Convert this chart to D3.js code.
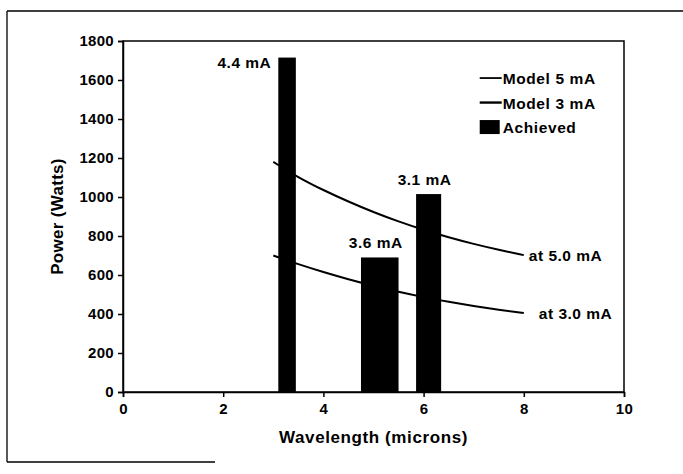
<!DOCTYPE html>
<html>
<head>
<meta charset="utf-8">
<script src="https://cdn.jsdelivr.net/npm/d3@7"></script>
<style>
  body { margin: 0; background: #fff; }
  text { font-family: "Liberation Sans", Arial, sans-serif; font-weight: bold; fill: #000; }
</style>
</head>
<body>
<div id="chart"></div>
<script>
// model curves (power vs wavelength)
var wavelength = [3, 3.5, 4, 4.5, 5, 5.5, 6, 6.5, 7, 7.5, 8];
var model5 = [1180, 1100, 1035, 976, 922, 874, 831, 793, 759, 729, 702];
var model3 = [700, 655, 615, 578, 544, 513, 486, 462, 441, 422, 405];

// achieved bars
var barLo = [3.1, 4.75, 5.85];
var barHi = [3.45, 5.5, 6.35];
var barPower = [1715, 690, 1015];
var barLabel = ["4.4 mA", "3.6 mA", "3.1 mA"];

var xTicks = [0, 2, 4, 6, 8, 10];
var yTicks = [0, 200, 400, 600, 800, 1000, 1200, 1400, 1600, 1800];
var legendNames = ["Model 5 mA", "Model 3 mA", "Achieved"];

var W = 683, H = 474;
var margin = {top: 41, right: 59, bottom: 82, left: 123},
    width = W - margin.left - margin.right,
    height = H - margin.top - margin.bottom;

var svgRoot = d3.select("#chart").append("svg")
  .attr("width", W).attr("height", H);

// scanned page border
svgRoot.append("path")
  .attr("d", "M7,11 L683,11 M7,11 L7,462 M7,462 L215,462")
  .attr("stroke", "#000").attr("stroke-width", 1.3).attr("fill", "none");

var svg = svgRoot.append("g")
  .attr("transform", "translate(" + margin.left + "," + margin.top + ")");

var x = d3.scaleLinear().domain([0, 10]).range([0, width]);
var y = d3.scaleLinear().domain([0, 1800]).range([height, 0]);

// plot frame
svg.append("rect")
  .attr("x", 0).attr("y", 0).attr("width", width).attr("height", height)
  .attr("fill", "none").attr("stroke", "#000").attr("stroke-width", 1.5);

// axes
var xAxis = svg.append("g")
  .attr("transform", "translate(0," + height + ")")
  .call(d3.axisBottom(x).tickValues(xTicks).tickFormat(d3.format("d")).tickSize(5).tickPadding(6));
var yAxis = svg.append("g")
  .call(d3.axisLeft(y).tickValues(yTicks).tickFormat(d3.format("d")).tickSize(5).tickPadding(4));
[xAxis, yAxis].forEach(function(a) {
  a.selectAll("path, line").attr("stroke", "#000").attr("stroke-width", 1.5);
  a.selectAll("text").style("font-size", "15px").style("letter-spacing", "0.3px")
    .style("font-family", "'Liberation Sans', Arial, sans-serif").style("font-weight", "bold");
});

// bars
svg.selectAll("rect.bar")
  .data(barPower)
  .enter().append("rect")
    .attr("class", "bar")
    .attr("x", function(d, i) { return x(barLo[i]); })
    .attr("width", function(d, i) { return x(barHi[i]) - x(barLo[i]); })
    .attr("y", function(d) { return y(d); })
    .attr("height", function(d) { return height - y(d); })
    .attr("fill", "#000");

// bar labels
svg.selectAll("text.barlab")
  .data(barLabel)
  .enter().append("text")
    .attr("class", "barlab")
    .attr("x", function(d, i) { return i == 0 ? x(barLo[i]) - 7 : (x(barLo[i]) + x(barHi[i])) / 2 - 4; })
    .attr("y", function(d, i) { return y(barPower[i]) + (i == 0 ? 10 : -9); })
    .attr("text-anchor", function(d, i) { return i == 0 ? "end" : "middle"; })
    .style("font-size", "15.5px").style("letter-spacing", "0.5px")
    .text(function(d) { return d; });

// model lines
var line = d3.line()
  .x(function(d) { return x(d[0]); })
  .y(function(d) { return y(d[1]); })
  .curve(d3.curveBasis);
var models = [model5, model3];
var endLabels = ["at 5.0 mA", "at 3.0 mA"];
models.forEach(function(m, k) {
  var pts = wavelength.map(function(w, i) { return [w, m[i]]; });
  svg.append("path")
    .attr("d", line(pts))
    .attr("fill", "none").attr("stroke", "#000").attr("stroke-width", 2);
  svg.append("text")
    .attr("x", x(wavelength[wavelength.length - 1]) + 5 + k * 10)
    .attr("y", y(m[m.length - 1]) + 6)
    .style("font-size", "15.5px").style("letter-spacing", "0.5px")
    .text(endLabels[k]);
});

// legend
var lg = svg.append("g").attr("transform", "translate(" + (x(7.12)) + "," + (y(1610)) + ")");
legendNames.forEach(function(n, i) {
  var gy = i * 24.5;
  if (i < 2) {
    lg.append("line").attr("x1", 0).attr("x2", 22).attr("y1", gy).attr("y2", gy)
      .attr("stroke", "#000").attr("stroke-width", i == 0 ? 1.8 : 2.4);
  } else {
    lg.append("rect").attr("x", 0).attr("y", gy - 7).attr("width", 20).attr("height", 14).attr("fill", "#000");
  }
  lg.append("text").attr("x", 23).attr("y", gy + 6)
    .style("font-size", "15.5px").style("letter-spacing", "0.6px").text(n);
});

// axis titles
svg.append("text")
  .attr("x", width / 2).attr("y", height + 51)
  .attr("text-anchor", "middle").style("font-size", "17px").style("letter-spacing", "0.6px")
  .text("Wavelength (microns)");
svg.append("text")
  .attr("transform", "translate(" + (-60) + "," + (height / 2) + ") rotate(-90)")
  .attr("text-anchor", "middle").style("font-size", "17px").style("letter-spacing", "0.3px")
  .text("Power (Watts)");
</script>
</body>
</html>
